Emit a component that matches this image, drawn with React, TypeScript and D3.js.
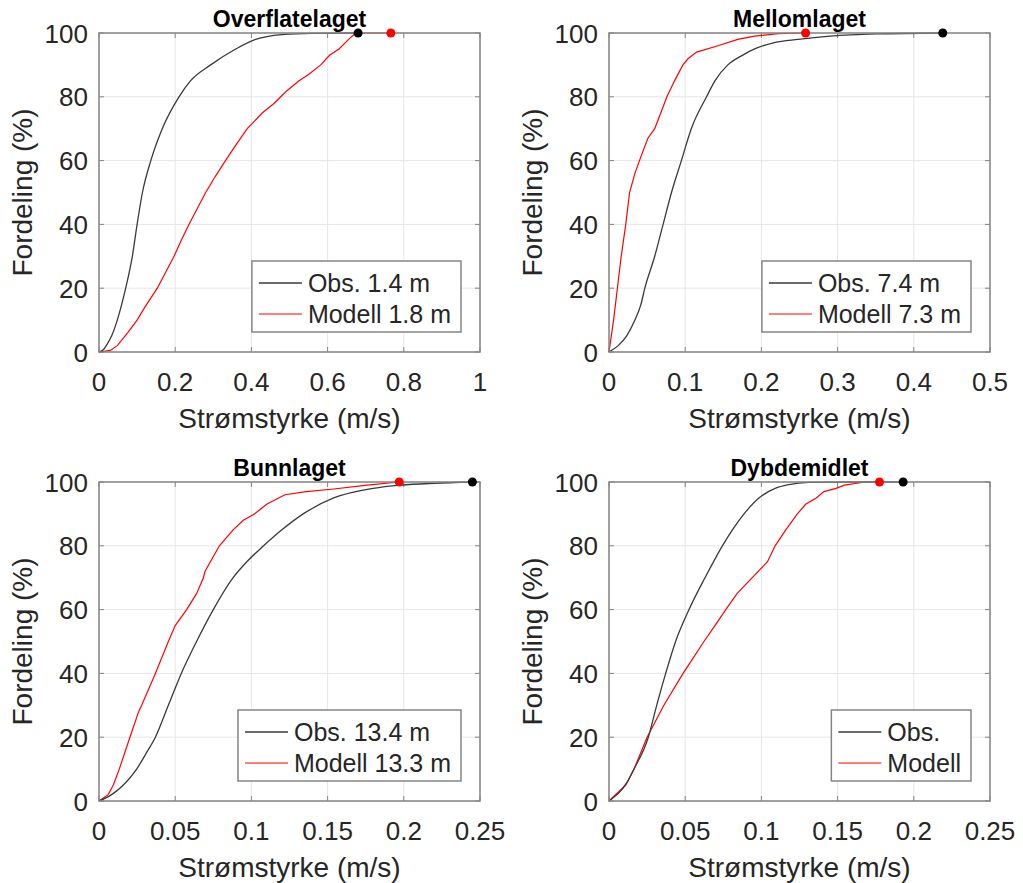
import React from "react";
import * as d3 from "d3";

// ---------- DATA ----------
const titles = ["Overflatelaget", "Mellomlaget", "Bunnlaget", "Dybdemidlet"];
const xMaxes = [1, 0.5, 0.25, 0.25];
const xTickLists = [
  [0, 0.2, 0.4, 0.6, 0.8, 1],
  [0, 0.1, 0.2, 0.3, 0.4, 0.5],
  [0, 0.05, 0.1, 0.15, 0.2, 0.25],
  [0, 0.05, 0.1, 0.15, 0.2, 0.25],
];
const yTicks = [0, 20, 40, 60, 80, 100];
const obsLabels = ["Obs. 1.4 m", "Obs. 7.4 m", "Obs. 13.4 m", "Obs."];
const modLabels = ["Modell 1.8 m", "Modell 7.3 m", "Modell 13.3 m", "Modell"];

// Panel 1 – Overflatelaget
const obs1Speed = [0, 0.012, 0.019, 0.033, 0.048, 0.07, 0.0875, 0.1, 0.114, 0.136, 0.166, 0.21, 0.24, 0.293, 0.359, 0.411, 0.48, 0.56, 0.68];
const obs1Pct = [0, 0.8, 2, 5, 10, 20, 30, 40, 50, 60, 70, 80, 85, 90, 95, 98, 99.5, 99.9, 100];
const mod1Speed = [0, 0.03, 0.048, 0.075, 0.1, 0.12, 0.153, 0.175, 0.197, 0.216, 0.236, 0.258, 0.28, 0.305, 0.332, 0.36, 0.389, 0.429, 0.46, 0.477, 0.494, 0.525, 0.55, 0.582, 0.605, 0.63, 0.655, 0.674, 0.766];
const mod1Pct = [0, 0.5, 2, 6, 10, 14, 20, 25, 30, 35, 40, 45, 50, 55, 60, 65, 70, 75, 78, 80, 82, 85, 87, 90, 93, 95, 98, 100, 100];

// Panel 2 – Mellomlaget
const obs2Speed = [0, 0.012, 0.023, 0.034, 0.042, 0.047, 0.06, 0.071, 0.082, 0.095, 0.108, 0.128, 0.139, 0.156, 0.175, 0.191, 0.217, 0.248, 0.29, 0.35, 0.438];
const obs2Pct = [0, 2, 5, 10, 15, 20, 30, 40, 50, 60, 70, 80, 85, 90, 93, 95, 97, 98, 99, 99.7, 100];
const mod2Speed = [0, 0.006, 0.011, 0.016, 0.022, 0.027, 0.034, 0.04, 0.051, 0.06, 0.068, 0.076, 0.086, 0.097, 0.104, 0.115, 0.143, 0.169, 0.191, 0.222, 0.258];
const mod2Pct = [0, 10, 20, 30, 40, 50, 56, 60, 67, 70, 75, 80, 85, 90, 92, 94, 96, 98, 99, 99.8, 100];

// Panel 3 – Bunnlaget
const obs3Speed = [0, 0.0083, 0.016, 0.0247, 0.031, 0.037, 0.0455, 0.054, 0.064, 0.075, 0.088, 0.097, 0.108, 0.12, 0.134, 0.154, 0.18, 0.198, 0.22, 0.245];
const obs3Pct = [0, 2, 5, 10, 15, 20, 30, 40, 50, 60, 70, 75, 80, 85, 90, 95, 98, 99, 99.6, 100];
const mod3Speed = [0, 0.006, 0.0094, 0.0133, 0.0203, 0.026, 0.028, 0.037, 0.0455, 0.05, 0.0575, 0.064, 0.0685, 0.0696, 0.079, 0.088, 0.0947, 0.102, 0.11, 0.122, 0.136, 0.154, 0.176, 0.197];
const mod3Pct = [0, 2, 5, 10, 20, 28, 30, 40, 50, 55, 60, 65, 70, 72, 80, 85, 88, 90, 93, 96, 97, 97.8, 99, 100];

// Panel 4 – Dybdemidlet
const obs4Speed = [0, 0.012, 0.0164, 0.0258, 0.0313, 0.0372, 0.0437, 0.0525, 0.063, 0.0744, 0.081, 0.0886, 0.0984, 0.109, 0.118, 0.131, 0.16, 0.193];
const obs4Pct = [0, 6, 10, 20, 30, 40, 50, 60, 70, 80, 85, 90, 95, 98, 99.2, 99.9, 100, 100];
const mod4Speed = [0, 0.011, 0.0164, 0.025, 0.036, 0.0486, 0.0555, 0.0623, 0.0695, 0.0766, 0.084, 0.094, 0.104, 0.109, 0.116, 0.1236, 0.129, 0.136, 0.141, 0.149, 0.1545, 0.168, 0.1775];
const mod4Pct = [0, 5, 10, 20, 30, 40, 45, 50, 55, 60, 65, 70, 75, 80, 85, 90, 93, 95, 97, 98, 99, 100, 100];

const obsSpeeds = [obs1Speed, obs2Speed, obs3Speed, obs4Speed];
const obsPcts = [obs1Pct, obs2Pct, obs3Pct, obs4Pct];
const modSpeeds = [mod1Speed, mod2Speed, mod3Speed, mod4Speed];
const modPcts = [mod1Pct, mod2Pct, mod3Pct, mod4Pct];

// ---------- LAYOUT ----------
const W = 1023;
const H = 883;
const FONT = "'Liberation Sans', Arial, Helvetica, sans-serif";
const TEXT = "#262626";
const AXIS = "#858585";
const GRID = "#e6e6e6";
const OBS_COLOR = "#3a3a3a";
const MOD_COLOR = "#ff0000";
const panelOrigins = [
  { left: 99, top: 33 },
  { left: 609, top: 33 },
  { left: 99, top: 482 },
  { left: 609, top: 482 },
];
const PW = 381;
const PH = 319;

function measure(text: string, size: number): number {
  if (typeof document === "undefined") return text.length * size * 0.55;
  const c = document.createElement("canvas");
  const ctx = c.getContext("2d");
  if (!ctx) return text.length * size * 0.55;
  ctx.font = `${size}px 'Liberation Sans', Arial, sans-serif`;
  return ctx.measureText(text).width;
}

function fmt(v: number): string {
  return String(+v.toFixed(3));
}

function Panel({ i }: { i: number }) {
  const { left, top } = panelOrigins[i];
  const x = d3.scaleLinear().domain([0, xMaxes[i]]).range([left, left + PW]);
  const y = d3.scaleLinear().domain([0, 100]).range([top + PH, top]);
  const obsPts: [number, number][] = obsSpeeds[i].map((s, k) => [s, obsPcts[i][k]]);
  const modPts: [number, number][] = modSpeeds[i].map((s, k) => [s, modPcts[i][k]]);
  const obsPath =
    d3
      .line<[number, number]>()
      .x((d) => x(d[0]))
      .y((d) => y(d[1]))
      .curve(d3.curveMonotoneX)(obsPts) || "";
  const modPath =
    d3
      .line<[number, number]>()
      .x((d) => x(d[0]))
      .y((d) => y(d[1]))(modPts) || "";
  const obsEnd = obsPts[obsPts.length - 1];
  const modEnd = modPts[modPts.length - 1];
  const xTicks = xTickLists[i];
  const tickLen = 5;
  const bottom = top + PH;
  const right = left + PW;
  const legFont = 25;
  const legTextW = Math.max(measure(obsLabels[i], legFont), measure(modLabels[i], legFont));
  const legW = 56 + legTextW + 10;
  const legH = 71;
  const legRight = right - 19;
  const legBottom = bottom - 20;
  const legLeft = legRight - legW;
  const legTop = legBottom - legH;
  const cx = left + PW / 2;

  return (
    <g>
      <rect x={left} y={top} width={PW} height={PH} fill="#ffffff" />
      {xTicks.map((t) => (
        <line key={"gx" + t} x1={x(t)} x2={x(t)} y1={top} y2={bottom} stroke={GRID} strokeWidth={1} />
      ))}
      {yTicks.map((t) => (
        <line key={"gy" + t} x1={left} x2={right} y1={y(t)} y2={y(t)} stroke={GRID} strokeWidth={1} />
      ))}
      {xTicks.map((t) => (
        <g key={"tx" + t}>
          <line x1={x(t)} x2={x(t)} y1={bottom} y2={bottom - tickLen} stroke={AXIS} strokeWidth={1} />
          <line x1={x(t)} x2={x(t)} y1={top} y2={top + tickLen} stroke={AXIS} strokeWidth={1} />
          <text x={x(t)} y={bottom + 39} textAnchor="middle" fontSize={26} fill={TEXT} fontFamily={FONT}>
            {fmt(t)}
          </text>
        </g>
      ))}
      {yTicks.map((t) => (
        <g key={"ty" + t}>
          <line x1={left} x2={left + tickLen} y1={y(t)} y2={y(t)} stroke={AXIS} strokeWidth={1} />
          <line x1={right} x2={right - tickLen} y1={y(t)} y2={y(t)} stroke={AXIS} strokeWidth={1} />
          <text x={left - 11} y={y(t) + 9.5} textAnchor="end" fontSize={26} fill={TEXT} fontFamily={FONT}>
            {t}
          </text>
        </g>
      ))}
      <path d={modPath} fill="none" stroke={MOD_COLOR} strokeWidth={1.2} />
      <path d={obsPath} fill="none" stroke={OBS_COLOR} strokeWidth={1.3} />
      <rect x={left} y={top} width={PW} height={PH} fill="none" stroke={AXIS} strokeWidth={1.5} />
      <circle cx={x(modEnd[0])} cy={y(modEnd[1])} r={4.5} fill={MOD_COLOR} />
      <circle cx={x(obsEnd[0])} cy={y(obsEnd[1])} r={4.5} fill="#000000" />
      <text x={cx} y={top - 6} textAnchor="middle" fontSize={23} fontWeight="bold" fill="#000" fontFamily={FONT}>
        {titles[i]}
      </text>
      <text x={cx} y={bottom + 76} textAnchor="middle" fontSize={28} fill={TEXT} fontFamily={FONT}>
        Strømstyrke (m/s)
      </text>
      <text
        transform={`translate(${left - 67},${top + PH / 2}) rotate(-90)`}
        textAnchor="middle"
        fontSize={28}
        fill={TEXT}
        fontFamily={FONT}
      >
        Fordeling (%)
      </text>
      <rect x={legLeft} y={legTop} width={legW} height={legH} fill="#ffffff" stroke={AXIS} strokeWidth={1.5} />
      <line x1={legLeft + 7} x2={legLeft + 50} y1={legTop + 22} y2={legTop + 22} stroke={OBS_COLOR} strokeWidth={1.3} />
      <text x={legLeft + 56} y={legTop + 22 + 9} fontSize={legFont} fill={TEXT} fontFamily={FONT}>
        {obsLabels[i]}
      </text>
      <line x1={legLeft + 7} x2={legLeft + 50} y1={legTop + 53} y2={legTop + 53} stroke={MOD_COLOR} strokeWidth={1.2} />
      <text x={legLeft + 56} y={legTop + 53 + 9} fontSize={legFont} fill={TEXT} fontFamily={FONT}>
        {modLabels[i]}
      </text>
    </g>
  );
}

export default function App() {
  return (
    <svg
      width={W}
      height={H}
      viewBox={`0 0 ${W} ${H}`}
      style={{ position: "absolute", left: 0, top: 0, background: "#ffffff" }}
    >
      <rect x={0} y={0} width={W} height={H} fill="#ffffff" />
      {[0, 1, 2, 3].map((i) => (
        <Panel key={i} i={i} />
      ))}
    </svg>
  );
}
